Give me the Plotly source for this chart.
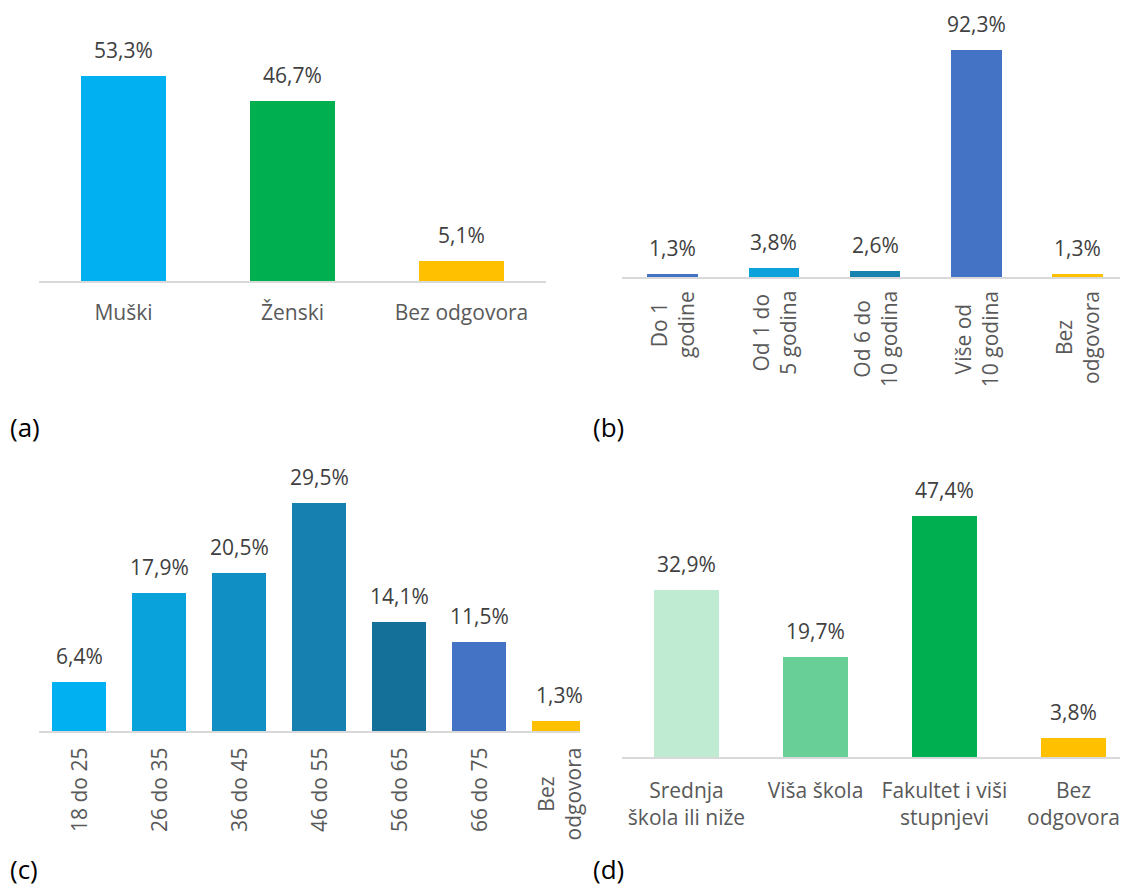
import plotly.graph_objects as go

# The page places the figure 8 px from the window's top-left corner.
OFF = 8
W, H = 1128 - OFF, 888 - OFF

# ---------------- data ----------------
a_cats = ["Muški", "Ženski", "Bez odgovora"]
a_vals = [53.3, 46.7, 5.1]
a_cols = ["#00B0F0", "#00B050", "#FFC000"]

b_cats = ["Do 1<br>godine", "Od 1 do<br>5 godina", "Od 6 do<br>10 godina",
          "Više od<br>10 godina", "Bez<br>odgovora"]
b_vals = [1.3, 3.8, 2.6, 92.3, 1.3]
b_cols = ["#4472C4", "#0BA2DC", "#1682AE", "#4472C4", "#FFC000"]

c_cats = ["18 do 25", "26 do 35", "36 do 45", "46 do 55", "56 do 65",
          "66 do 75", "Bez<br>odgovora"]
c_vals = [6.4, 17.9, 20.5, 29.5, 14.1, 11.5, 1.3]
c_cols = ["#00B0F0", "#0AA2DA", "#108FC4", "#1681B0", "#146F99",
          "#4472C4", "#FFC000"]

d_cats = ["Srednja<br>škola ili niže", "Viša škola",
          "Fakultet i viši<br>stupnjevi", "Bez<br>odgovora"]
d_vals = [32.9, 19.7, 47.4, 3.8]
d_cols = ["#C0EBD3", "#68CF96", "#00B050", "#FFC000"]

panel_labels = ["(a)", "(b)", "(c)", "(d)"]

# ---------------- layout helpers ----------------
FONT = "Open Sans"
FS = 21
LBL_COL = "#404040"
TICK_COL = "#595959"
AXIS_COL = "#D9D9D9"


def px_x(p):
    return (p - OFF) / W


def px_y(p):
    return 1 - (p - OFF) / H


def fmt(v):
    return f"{v:.1f}%".replace(".", ",")


fig = go.Figure()

panels = [
    dict(c=a_cats, v=a_vals, col=a_cols, s="", xd=(39, 546), yb=281, yt=OFF,
         ymax=(281 - OFF) / 3.846, xr=[-0.5, 2.5], w=0.5, rot=False, standoff=12),
    dict(c=b_cats, v=b_vals, col=b_cols, s="2", xd=(622, 1128), yb=277, yt=OFF,
         ymax=(277 - OFF) / 2.459, xr=[-0.5, 4.5], w=0.5, rot=True, lab_top=289),
    dict(c=c_cats, v=c_vals, col=c_cols, s="3", xd=(39, 580), yb=731, yt=450,
         ymax=281 / 7.73, xr=[-0.5, -0.5 + 541 / 80], w=0.675, rot=True, lab_top=746),
    dict(c=d_cats, v=d_vals, col=d_cols, s="4", xd=(622, 1128), yb=757, yt=450,
         ymax=307 / 5.084, xr=[-0.5, -0.5 + 506 / 129], w=0.5, rot=False, standoff=14),
]

annotations = []
for p in panels:
    xa = "x" + p["s"]
    ya = "y" + p["s"]
    fig.add_trace(go.Bar(
        x=p["c"], y=p["v"], marker=dict(color=p["col"], line=dict(width=0)),
        width=p["w"], xaxis=xa, yaxis=ya, showlegend=False, hoverinfo="skip",
    ))
    xkey = "xaxis" + p["s"]
    ykey = "yaxis" + p["s"]
    xcfg = dict(
        domain=[px_x(p["xd"][0]), min(1.0, px_x(p["xd"][1]))], anchor=ya,
        range=p["xr"], type="category", showgrid=False, zeroline=False,
        showline=True, linecolor=AXIS_COL, linewidth=1.5, ticks="",
        tickfont=dict(family=FONT, size=FS, color=TICK_COL),
        fixedrange=True,
    )
    if p["rot"]:
        xcfg["showticklabels"] = False
    else:
        xcfg["ticklabelstandoff"] = p["standoff"]
    fig.update_layout({
        xkey: xcfg,
        ykey: dict(domain=[px_y(p["yb"]), min(1.0, px_y(p["yt"]))], anchor=xa,
                   range=[0, p["ymax"]], visible=False, fixedrange=True),
    })
    # value labels
    for cat, val in zip(p["c"], p["v"]):
        annotations.append(dict(
            x=cat, y=val, xref=xa, yref=ya, text=fmt(val), showarrow=False,
            xanchor="center", yanchor="middle", yshift=26,
            font=dict(family=FONT, size=FS, color=LBL_COL),
        ))
    # rotated category labels (lines centred on each other)
    if p["rot"]:
        for cat in p["c"]:
            annotations.append(dict(
                x=cat, y=px_y(p["lab_top"]), xref=xa, yref="paper", text=cat,
                showarrow=False, textangle=-90, xanchor="center", yanchor="top",
                align="center",
                font=dict(family=FONT, size=FS, color=TICK_COL),
            ))

# panel letters
letter_pos = [(8, 427), (591, 427), (8, 869), (591, 869)]
for txt, (lx, ly) in zip(panel_labels, letter_pos):
    annotations.append(dict(
        x=px_x(lx), y=px_y(ly), xref="paper", yref="paper", text=txt,
        showarrow=False, xanchor="left", yanchor="middle",
        font=dict(family=FONT, size=26, color="#000000"),
    ))

fig.update_layout(
    width=W, height=H, margin=dict(l=0, r=0, t=0, b=0),
    paper_bgcolor="white", plot_bgcolor="white",
    annotations=annotations, bargap=0,
    font=dict(family=FONT),
)

fig.write_html("out.html", config={"displayModeBar": False})
